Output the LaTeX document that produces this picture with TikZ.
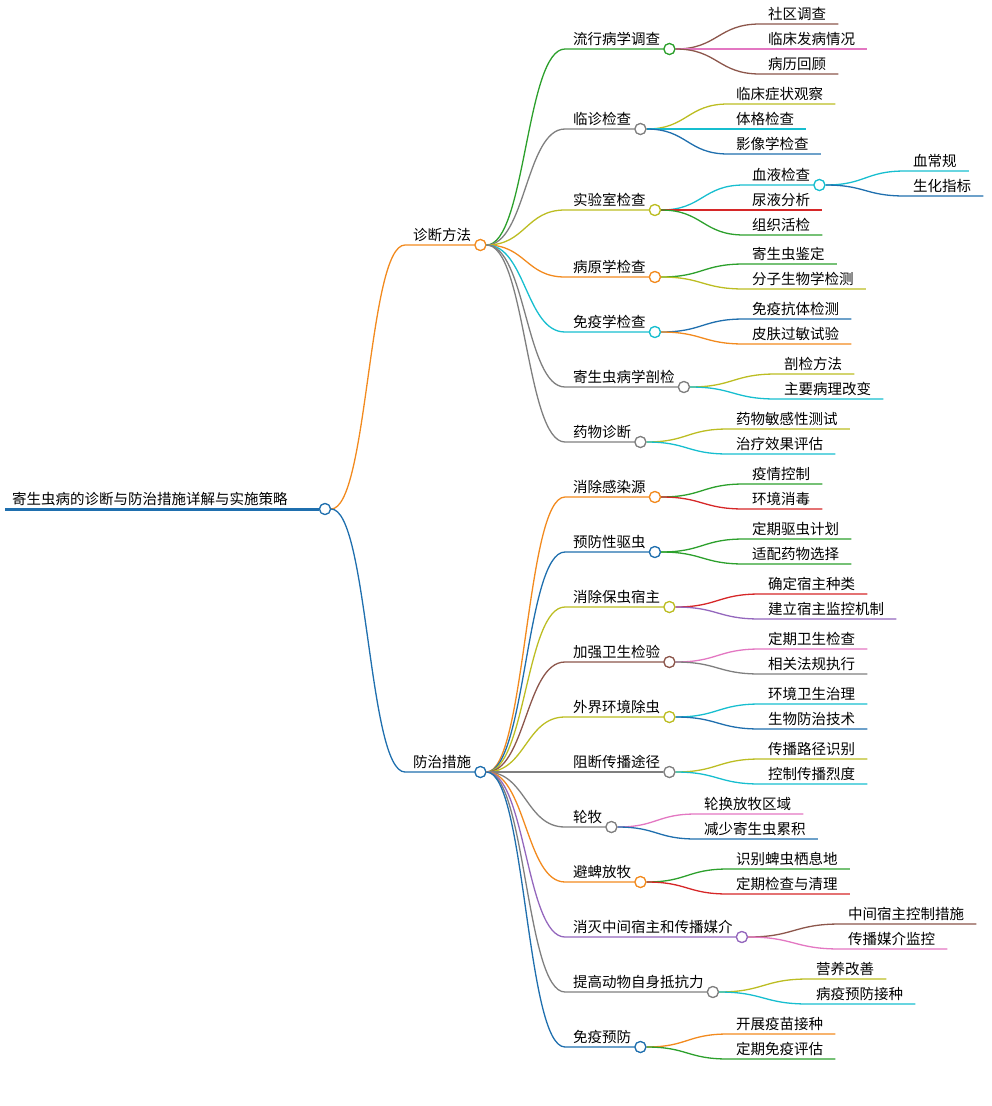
\documentclass[tikz,border=0pt]{standalone}
\usepackage{fontspec}
\setmainfont{Noto Sans CJK SC}
\usetikzlibrary{calc}
\definecolor{cOra}{HTML}{F28A1E}
\definecolor{cBlu}{HTML}{1F6FAE}
\definecolor{cGrn}{HTML}{2CA02C}
\definecolor{cGry}{HTML}{7F7F7F}
\definecolor{cOli}{HTML}{BCBD22}
\definecolor{cCya}{HTML}{17BECF}
\definecolor{cRed}{HTML}{D62728}
\definecolor{cBro}{HTML}{8C564B}
\definecolor{cPnk}{HTML}{E377C2}
\definecolor{cPur}{HTML}{9467BD}
% leaf: name, colour, parent, x, y, text
\newcommand\leaf[6]{%
  \coordinate (#1s) at (#4,#5);
  \node[txt,anchor=base west] (#1) at (#4+8,#5-5) {#6};
  \coordinate (#1m) at ($(#3.east)!.5!(#1s)$);
  \draw[link,#2] (#3.east) .. controls (#1m |- #3.east) and (#1m |- #1s) .. (#1s)
    -- ([xshift=12pt]#1.base east |- #1s);
}
% branch with circle: name, colour, parent, x, y, text
\newcommand\branch[6]{%
  \coordinate (#1s) at (#4,#5);
  \node[txt,anchor=base west] (#1) at (#4+8,#5-5) {#6};
  \node[dot,draw=#2] (#1c) at ([xshift=9pt]#1.base east |- #1s) {};
  \coordinate (#1m) at ($(#3.east)!.5!(#1s)$);
  \draw[link,#2] (#3.east) .. controls (#1m |- #3.east) and (#1m |- #1s) .. (#1s)
    -- (#1c.west);
}
\begin{document}
\begin{tikzpicture}[x=1pt,y=-1pt,
  txt/.style={inner sep=0pt,font=\fontsize{14.5}{16}\selectfont},
  dot/.style={circle,fill=white,line width=1.2pt,minimum size=11pt,inner sep=0pt},
  link/.style={line width=1.3pt}]
\useasboundingbox (0,0) rectangle (992,1106);
% root
\node[txt,anchor=base west] (root) at (12,504) {寄生虫病的诊断与防治措施详解与实施策略};
\node[dot,draw=cBlu] (rootc) at (325,509) {};
\draw[cBlu,line width=3pt] (5,509) -- (rootc.west);
% level 1
\branch{diag}{cOra}{rootc}{405}{245}{诊断方法}
\branch{prev}{cBlu}{rootc}{405}{772}{防治措施}
\foreach \n in {diagc,prevc,rootc} \node[dot] at (\n) {};
\node[dot,draw=cOra] at (diagc) {};
\node[dot,draw=cBlu] at (prevc) {};
\node[dot,draw=cBlu] at (rootc) {};
% diagnosis
\branch{a1}{cGrn}{diagc}{565}{49}{流行病学调查}
\branch{a2}{cGry}{diagc}{565}{129}{临诊检查}
\branch{a3}{cOli}{diagc}{565}{210}{实验室检查}
\branch{a4}{cOra}{diagc}{565}{277}{病原学检查}
\branch{a5}{cCya}{diagc}{565}{332}{免疫学检查}
\branch{a6}{cGry}{diagc}{565}{387}{寄生虫病学剖检}
\branch{a7}{cGry}{diagc}{565}{442}{药物诊断}
\leaf{a11}{cBro}{a1c}{760}{24}{社区调查}
\leaf{a12}{cPnk}{a1c}{760}{49}{临床发病情况}
\leaf{a13}{cBro}{a1c}{760}{74}{病历回顾}
\leaf{a21}{cOli}{a2c}{728}{104}{临床症状观察}
\leaf{a22}{cCya}{a2c}{728}{129}{体格检查}
\leaf{a23}{cBlu}{a2c}{728}{154}{影像学检查}
\branch{a31}{cCya}{a3c}{744}{185}{血液检查}
\leaf{a32}{cRed}{a3c}{744}{210}{尿液分析}
\leaf{a33}{cGrn}{a3c}{744}{235}{组织活检}
\leaf{a311}{cCya}{a31c}{905}{171}{血常规}
\leaf{a312}{cBlu}{a31c}{905}{196}{生化指标}
\leaf{a41}{cGrn}{a4c}{744}{264}{寄生虫鉴定}
\leaf{a42}{cOli}{a4c}{744}{289}{分子生物学检测}
\leaf{a51}{cBlu}{a5c}{744}{319}{免疫抗体检测}
\leaf{a52}{cOra}{a5c}{744}{344}{皮肤过敏试验}
\leaf{a61}{cOli}{a6c}{776}{374}{剖检方法}
\leaf{a62}{cCya}{a6c}{776}{399}{主要病理改变}
\leaf{a71}{cOli}{a7c}{728}{429}{药物敏感性测试}
\leaf{a72}{cCya}{a7c}{728}{454}{治疗效果评估}
% prevention
\branch{b1}{cOra}{prevc}{565}{497}{消除感染源}
\branch{b2}{cBlu}{prevc}{565}{552}{预防性驱虫}
\branch{b3}{cOli}{prevc}{565}{607}{消除保虫宿主}
\branch{b4}{cBro}{prevc}{565}{662}{加强卫生检验}
\branch{b5}{cOli}{prevc}{565}{717}{外界环境除虫}
\branch{b6}{cGry}{prevc}{565}{772}{阻断传播途径}
\branch{b7}{cGry}{prevc}{565}{827}{轮牧}
\branch{b8}{cOra}{prevc}{565}{882}{避蜱放牧}
\branch{b9}{cPur}{prevc}{565}{937}{消灭中间宿主和传播媒介}
\branch{b10}{cGry}{prevc}{565}{992}{提高动物自身抵抗力}
\branch{b11}{cBlu}{prevc}{565}{1047}{免疫预防}
\leaf{b11a}{cGrn}{b1c}{744}{484}{疫情控制}
\leaf{b12}{cRed}{b1c}{744}{509}{环境消毒}
\leaf{b21}{cGrn}{b2c}{744}{539}{定期驱虫计划}
\leaf{b22}{cGrn}{b2c}{744}{564}{适配药物选择}
\leaf{b31}{cRed}{b3c}{760}{594}{确定宿主种类}
\leaf{b32}{cPur}{b3c}{760}{619}{建立宿主监控机制}
\leaf{b41}{cPnk}{b4c}{760}{649}{定期卫生检查}
\leaf{b42}{cGry}{b4c}{760}{674}{相关法规执行}
\leaf{b51}{cCya}{b5c}{760}{704}{环境卫生治理}
\leaf{b52}{cBlu}{b5c}{760}{729}{生物防治技术}
\leaf{b61}{cOli}{b6c}{760}{759}{传播路径识别}
\leaf{b62}{cCya}{b6c}{760}{784}{控制传播烈度}
\leaf{b71}{cPnk}{b7c}{696}{814}{轮换放牧区域}
\leaf{b72}{cBlu}{b7c}{696}{839}{减少寄生虫累积}
\leaf{b81}{cGrn}{b8c}{728}{869}{识别蜱虫栖息地}
\leaf{b82}{cRed}{b8c}{728}{894}{定期检查与清理}
\leaf{b91}{cBro}{b9c}{840}{924}{中间宿主控制措施}
\leaf{b92}{cPnk}{b9c}{840}{949}{传播媒介监控}
\leaf{b101}{cOli}{b10c}{808}{979}{营养改善}
\leaf{b102}{cCya}{b10c}{808}{1004}{病疫预防接种}
\leaf{b111}{cOra}{b11c}{728}{1034}{开展疫苗接种}
\leaf{b112}{cGrn}{b11c}{728}{1059}{定期免疫评估}
% circles on top
\foreach \n/\c in {a1c/cGrn,a2c/cGry,a3c/cOli,a4c/cOra,a5c/cCya,a6c/cGry,a7c/cGry,a31c/cCya,
  b1c/cOra,b2c/cBlu,b3c/cOli,b4c/cBro,b5c/cOli,b6c/cGry,b7c/cGry,b8c/cOra,b9c/cPur,b10c/cGry,b11c/cBlu}
  \node[dot,draw=\c] at (\n) {};
\end{tikzpicture}
\end{document}
